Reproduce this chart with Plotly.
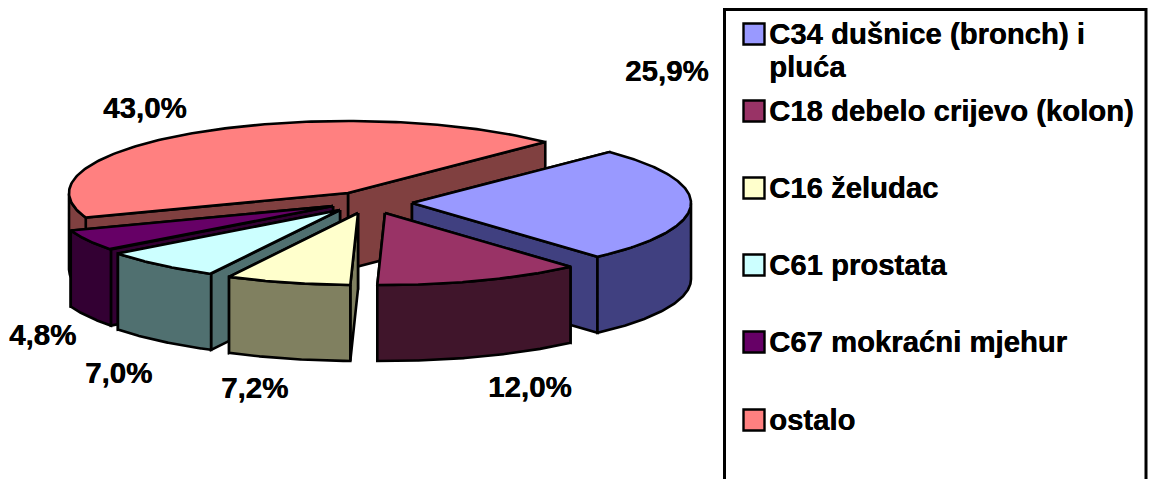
import numpy as np
import plotly.graph_objects as go

# --- data ---
categories = ["C34 dušnice (bronch) i\npluća", "C18 debelo crijevo (kolon)", "C16 želudac",
              "C61 prostata", "C67 mokraćni mjehur", "ostalo"]
values = [25.9, 12.0, 7.2, 7.0, 4.8, 43.0]
pct_labels = ["25,9%", "12,0%", "7,2%", "7,0%", "4,8%", "43,0%"]

# --- styles ---
top_colors = ["#9999FF", "#993366", "#FFFFCC", "#CCFFFF", "#660066", "#FF8080"]
side_colors = ["#404080", "#40152B", "#808060", "#507070", "#330033", "#804040"]

# --- layout of the projected pie (paper pixels) ---
W, H = 1150, 479
RX, RY, DEPTH = 279, 72, 76
START = 45.0
tips = [(412, 203), (385, 213), (358, 213), (340, 210), (333, 206), (348, 193)]
label_pos = [(667, 70), (530, 386), (254, 387), (118, 372), (42, 334), (145, 107)]
draw_order = [5, 0, 4, 3, 2, 1]
legend_rows = [33, 110, 187, 264, 341, 419]
swatch_rows = [34, 111, 188, 265, 342, 420]
LINE_GAP = 33
FONT = "Liberation Sans, Arial, sans-serif"
SHADOW = "0.4px 0 0 black"

total = sum(values)
edges = START + np.concatenate([[0], np.cumsum(values)]) / total * 360


def rim(tip, deg):
    t = np.radians(deg)
    return tip[0] + RX * np.sin(t), tip[1] - RY * np.cos(t)


fig = go.Figure()


def poly(xs, ys, fill):
    xs, ys = list(xs), list(ys)
    fig.add_trace(go.Scatter(x=xs + xs[:1], y=ys + ys[:1], mode="lines", fill="toself",
                             fillcolor=fill, line=dict(color="black", width=2.6),
                             hoverinfo="skip", showlegend=False))


for i in draw_order:
    tip, a0, a1 = tips[i], edges[i], edges[i + 1]
    # cut faces, rear one first
    faces = sorted([a0, a1], key=lambda a: rim(tip, a)[1])
    for a in faces:
        px, py = rim(tip, a)
        poly([tip[0], px, px, tip[0]], [tip[1], py, py + DEPTH, tip[1] + DEPTH], side_colors[i])
    # outer wall, only the part that faces the viewer
    wall = np.linspace(a0, a1, 160)
    wall = wall[(np.mod(wall, 360) >= 90) & (np.mod(wall, 360) <= 270)]
    if wall.size > 1:
        wx, wy = rim(tip, wall)
        poly(np.r_[wx, wx[::-1]], np.r_[wy, wy[::-1] + DEPTH], side_colors[i])
    # top face
    arc = np.linspace(a0, a1, 160)
    ax, ay = rim(tip, arc)
    poly(np.r_[tip[0], ax], np.r_[tip[1], ay], top_colors[i])

# legend swatches
fig.add_trace(go.Scatter(x=[754] * len(categories), y=swatch_rows, mode="markers",
                         marker=dict(symbol="square", size=21, color=top_colors,
                                     line=dict(color="black", width=2.4)),
                         hoverinfo="skip", showlegend=False))

annotations = []
for lab, (x, y) in zip(pct_labels, label_pos):
    annotations.append(dict(x=x, y=y, text=f"<b>{lab}</b>", showarrow=False, xanchor="center",
                            yanchor="middle",
                            font=dict(family=FONT, size=29.5, color="black", shadow=SHADOW)))
for cat, y in zip(categories, legend_rows):
    for j, part in enumerate(cat.split("\n")):
        annotations.append(dict(x=767, y=y + j * LINE_GAP, text=f"<b>{part}</b>", showarrow=False,
                                xanchor="left", yanchor="middle",
                                font=dict(family=FONT, size=29.3, color="black", shadow=SHADOW)))

fig.update_layout(
    width=W, height=H, margin=dict(l=0, r=0, t=0, b=0),
    paper_bgcolor="white", plot_bgcolor="white", showlegend=False,
    xaxis=dict(range=[0, W], visible=False, fixedrange=True),
    yaxis=dict(range=[H, 0], visible=False, fixedrange=True),
    annotations=annotations,
    shapes=[dict(type="rect", x0=724.5, x1=1146, y0=9.5, y1=H + 20, xref="x", yref="y",
                 line=dict(color="black", width=3), fillcolor="rgba(0,0,0,0)", layer="below")],
)
fig.write_html("out.html", config=dict(displayModeBar=False),
               post_script="document.body.style.margin='0';document.body.style.overflow='hidden';")
